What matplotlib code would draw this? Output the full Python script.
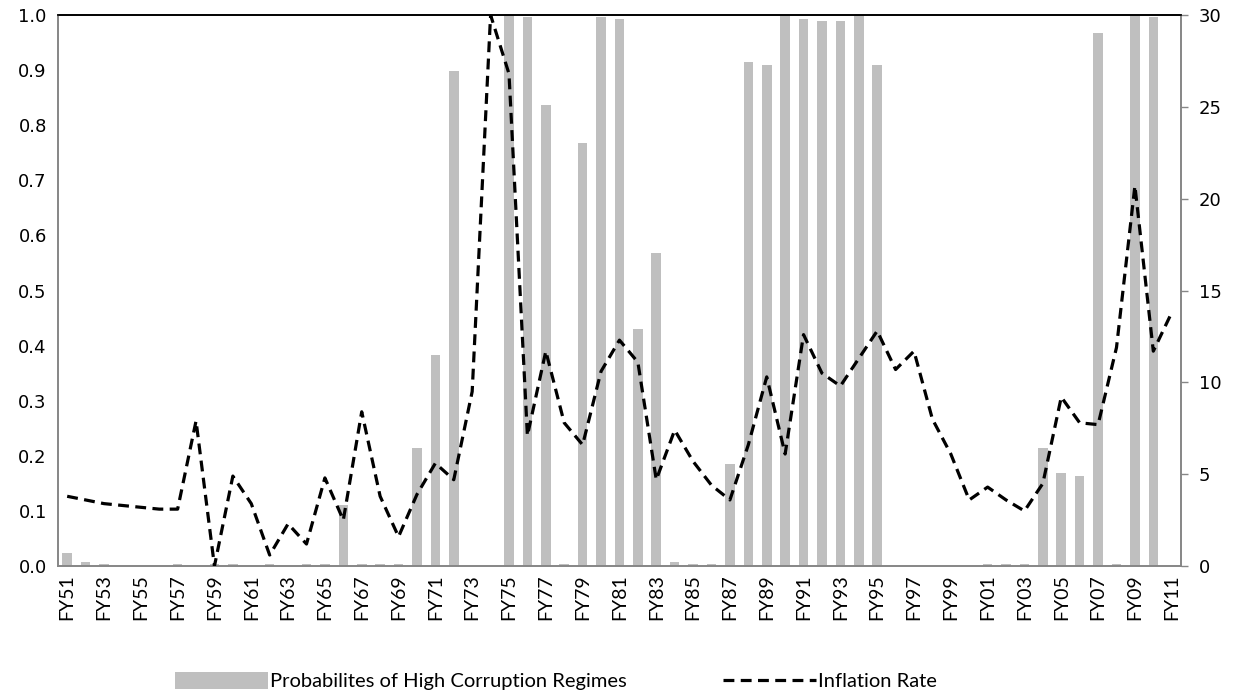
import matplotlib
matplotlib.use("Agg")
import matplotlib.pyplot as plt
from matplotlib.patches import Patch
from matplotlib.lines import Line2D
import numpy as np

years = [f"FY{(51 + i) % 100:02d}" for i in range(61)]

prob_high_corruption = [
    0.023, 0.008, 0.004, 0.0, 0.0, 0.0, 0.004, 0.0, 0.004, 0.004,
    0.0, 0.004, 0.0, 0.004, 0.004, 0.11, 0.004, 0.004, 0.004, 0.215,
    0.383, 0.899, 0.0, 0.0, 1.0, 0.996, 0.836, 0.003, 0.767, 0.996,
    0.993, 0.43, 0.568, 0.008, 0.004, 0.004, 0.185, 0.915, 0.909, 1.0,
    0.993, 0.989, 0.989, 1.0, 0.909, 0.0, 0.0, 0.0, 0.0, 0.0,
    0.004, 0.004, 0.004, 0.215, 0.169, 0.164, 0.968, 0.004, 1.0, 0.996,
    0.0,
]

inflation_rate = [
    3.8, 3.6, 3.4, 3.3, 3.2, 3.1, 3.1, 7.9, 0.0, 4.9,
    3.4, 0.6, 2.3, 1.2, 4.8, 2.5, 8.4, 3.8, 1.6, 3.9,
    5.6, 4.7, 9.5, 30.0, 26.8, 7.1, 11.7, 7.8, 6.6, 10.6,
    12.3, 11.1, 4.7, 7.4, 5.7, 4.4, 3.6, 6.6, 10.3, 6.1,
    12.6, 10.5, 9.8, 11.3, 12.8, 10.7, 11.7, 8.0, 6.1, 3.6,
    4.3, 3.6, 3.0, 4.5, 9.2, 7.8, 7.7, 11.9, 20.7, 11.7,
    13.8,
]

left_ticks = [0.0, 0.1, 0.2, 0.3, 0.4, 0.5, 0.6, 0.7, 0.8, 0.9, 1.0]
right_ticks = [0, 5, 10, 15, 20, 25, 30]

narrow = ["Lato", "DejaVu Sans"]

fig = plt.figure(figsize=(12.44, 6.98), dpi=100)
ax = fig.add_axes([0.0466, 0.189, 0.9027, 0.7895])
ax2 = ax.twinx()

x = np.arange(len(years))
ax.bar(x, prob_high_corruption, width=0.52, color="#BFBFBF", zorder=1)
ax2.plot(x, inflation_rate, color="black", lw=2.3, linestyle=(0, (3.4, 2.0)),
         zorder=3)

ax.set_xlim(-0.5, len(years) - 0.5)
ax.set_ylim(0, 1.0)
ax2.set_ylim(0, 30)

ax.set_yticks(left_ticks)
ax.set_yticklabels([f"{t:.1f}" for t in left_ticks], fontsize=13)
ax2.set_yticks(right_ticks)
ax2.set_yticklabels([str(t) for t in right_ticks], fontsize=13)

ax.set_xticks(x[::2])
ax.set_xticklabels(years[::2], rotation=90, fontsize=14, family=narrow)

ax.tick_params(axis="y", length=0, pad=8)
ax.tick_params(axis="x", length=0, pad=6)
ax2.tick_params(axis="y", length=5, width=1, color="#868686", pad=8, direction="out")

for a in (ax, ax2):
    a.spines["left"].set_color("#868686")
    a.spines["bottom"].set_color("#868686")
    a.spines["right"].set_color("#868686")
    a.spines["top"].set_color("black")
    for s in a.spines.values():
        s.set_linewidth(1.2)

ax.set_zorder(ax2.get_zorder() - 1)
ax.patch.set_visible(True)
ax2.patch.set_visible(False)

handles = [
    Patch(facecolor="#BFBFBF", edgecolor="none"),
    Line2D([0], [0], color="black", lw=2.3, linestyle=(0, (3.4, 2.0))),
]
labels = ["Probabilites of High Corruption Regimes", "Inflation Rate"]
fig.legend(handles, labels, loc="center", bbox_to_anchor=(0.447, 0.024),
           ncol=2, frameon=False, handlelength=4.6, handleheight=0.9,
           handletextpad=0.12, columnspacing=4.8,
           prop={"family": narrow, "size": 14.5})

fig.savefig("out.png", dpi=100)
